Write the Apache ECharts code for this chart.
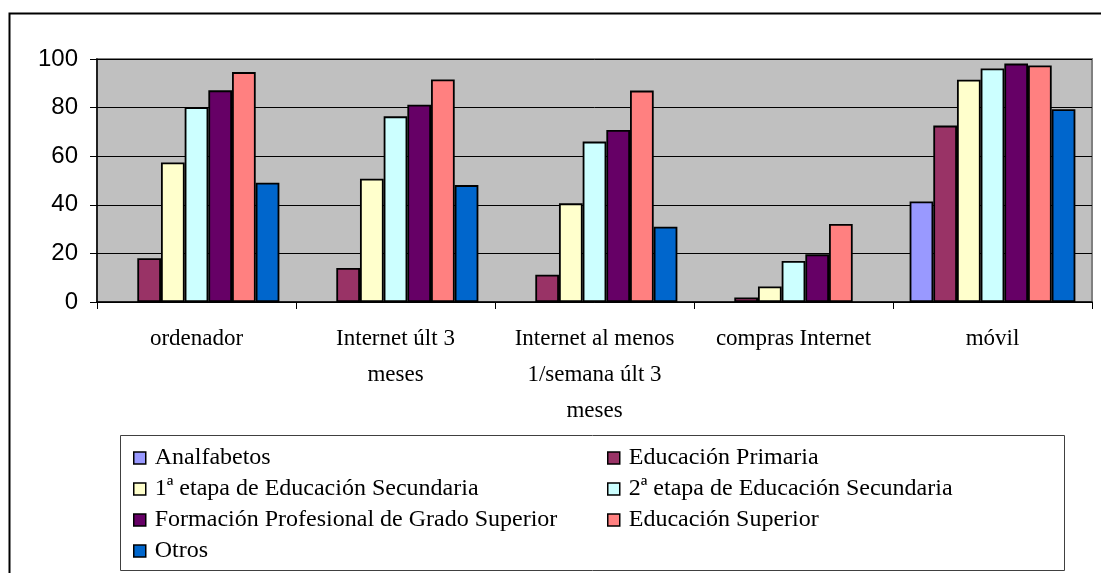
<!DOCTYPE html>
<html>
<head>
<meta charset="utf-8">
<script src="https://cdn.jsdelivr.net/npm/echarts@6/dist/echarts.min.js"></script>
<style>
  html, body { margin: 0; padding: 0; background: #fff; }
  #chart { width: 1101px; height: 573px; }
</style>
</head>
<body>
<div id="chart"></div>
<script>
// categorias del eje X
const categories = ['ordenador', 'Internet últ 3\nmeses', 'Internet al menos\n1/semana últ 3\nmeses', 'compras Internet', 'móvil'];
const yTicks = [0, 20, 40, 60, 80, 100];

// valores por nivel de estudios (%)
const analfabetos = [null, null, null, null, 41.4];
const primaria = [18, 14, 11.2, 1.9, 72.6];
const secundaria1 = [57.4, 50.7, 40.6, 6.4, 91.5];
const secundaria2 = [80.2, 76.4, 66, 16.9, 96.1];
const fpSuperior = [87.1, 81.2, 70.8, 19.6, 98.1];
const superior = [94.6, 91.6, 87, 32.1, 97.3];
const otros = [49.1, 48.1, 31, null, 79.3];

const names = ['Analfabetos', 'Educación Primaria', '1ª etapa de Educación Secundaria', '2ª etapa de Educación Secundaria',
  'Formación Profesional de Grado Superior', 'Educación Superior', 'Otros'];
const colors = ['#9999FF', '#993366', '#FFFFCC', '#CCFFFF', '#660066', '#FF8080', '#0066CC'];
const values = [analfabetos, primaria, secundaria1, secundaria2, fpSuperior, superior, otros];

const serif = '"Liberation Serif", serif';

const myChart = echarts.init(document.querySelector('#chart'));

const series = names.map((n, i) => {
  return {
    name: n,
    type: 'bar',
    data: values[i],
    barGap: '0%',
    barCategoryGap: '16.7%',
    itemStyle: { color: colors[i], borderColor: '#000', borderWidth: 1.8 }
  }
});

// texto de leyenda en serif
const legendText = { fontFamily: serif, fontSize: 24, lineHeight: 24, color: '#000', padding: [0, 0, 0, 4] };

const legendCommon = {
  orient: 'vertical',
  itemWidth: 12,
  itemHeight: 12,
  itemGap: 7,
  icon: 'rect',
  selectedMode: false,
  itemStyle: { borderColor: '#000', borderWidth: 1.5 },
  textStyle: legendText
};

const option = {
  animation: false,
  backgroundColor: '#fff',
  color: colors,
  textStyle: { fontFamily: serif },
  grid: {
    left: 97, top: 59, right: 9, bottom: 271,
    show: true, backgroundColor: '#C0C0C0', borderColor: '#808080', borderWidth: 2
  },
  xAxis: {
    type: 'category',
    data: categories,
    axisLine: { lineStyle: { color: '#000', width: 1.5 } },
    axisTick: { show: true, length: 7, lineStyle: { color: '#000' } },
    axisLabel: { fontFamily: serif, fontSize: 23, lineHeight: 36, color: '#000', margin: 19, interval: 0 }
  },
  yAxis: {
    type: 'value',
    min: 0, max: 100, interval: 20,
    axisLine: { show: true, lineStyle: { color: '#000', width: 1.5 } },
    axisTick: { show: true, length: 7, lineStyle: { color: '#000' } },
    splitLine: { lineStyle: { color: '#000', width: 1 } },
    axisLabel: {
      fontFamily: '"Liberation Sans", sans-serif', fontSize: 24, color: '#000', margin: 19,
      formatter: v => yTicks.includes(v) ? String(v) : ''
    }
  },
  legend: [
    Object.assign({ left: 128, top: 441, data: [names[0], names[2], names[4], names[6]] }, legendCommon),
    Object.assign({ left: 602, top: 441, data: [names[1], names[3], names[5]] }, legendCommon)
  ],
  graphic: [
    // marco exterior del grafico
    { type: 'rect', shape: { x: 9.5, y: 13.5, width: 1200, height: 700 }, style: { fill: 'none', stroke: '#000', lineWidth: 2 }, silent: true },
    // caja de la leyenda
    { type: 'rect', shape: { x: 120.5, y: 435.5, width: 944, height: 135 }, style: { fill: 'none', stroke: '#404040', lineWidth: 1 }, silent: true }
  ],
  series: series
};
myChart.setOption(option);
</script>
</body>
</html>
